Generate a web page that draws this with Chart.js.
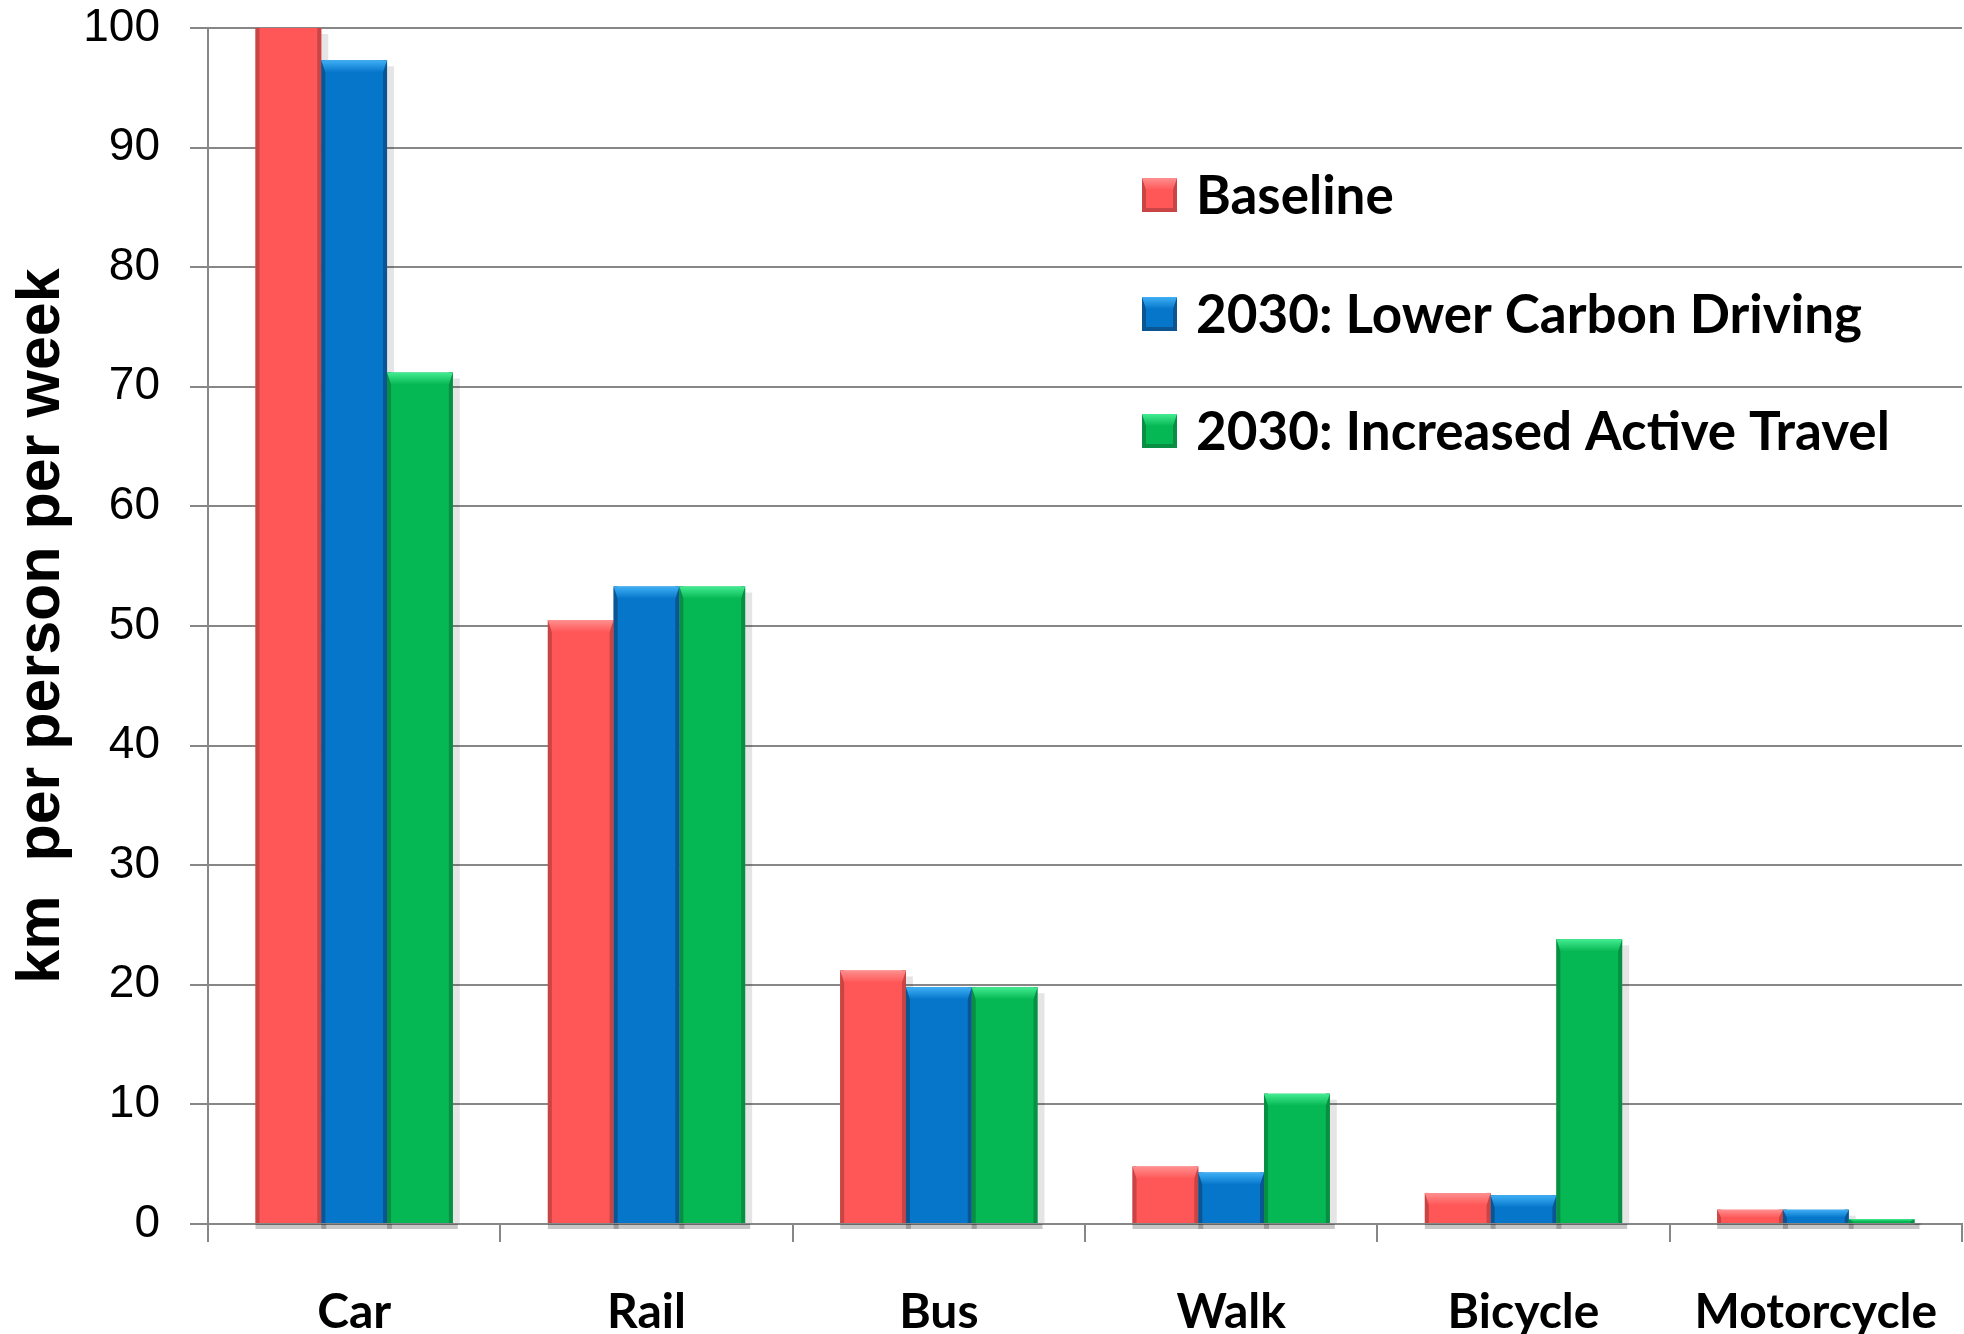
<!DOCTYPE html>
<html>
<head>
<meta charset="utf-8">
<script src="https://cdn.jsdelivr.net/npm/chart.js@4.4.1/dist/chart.umd.min.js"></script>
<style>
  html, body { margin: 0; padding: 0; background: #ffffff; }
  #wrap { width: 1964px; height: 1334px; }
</style>
</head>
<body>
<div id="wrap"><canvas id="c" width="1964" height="1334"></canvas></div>
<script>
// Weekly distance travelled by mode, km per person per week
const categories   = ['Car', 'Rail', 'Bus', 'Walk', 'Bicycle', 'Motorcycle'];
const baseline     = [100, 50.5, 21.2, 4.8, 2.6, 1.2];
const lowerCarbon  = [97.3, 53.3, 19.8, 4.3, 2.4, 1.2];
const activeTravel = [71.2, 53.3, 19.8, 10.9, 23.8, 0.4];
const seriesNames  = ['Baseline', '2030: Lower Carbon Driving', '2030: Increased Active Travel'];
const yTicks       = [0, 10, 20, 30, 40, 50, 60, 70, 80, 90, 100];
const yTitle       = 'km  per person per week';

const palette = [
  { fill: '#ff5757', dark: '#c94444', light: '#ff9090' },
  { fill: '#0676cb', dark: '#0a5592', light: '#3fb0f5' },
  { fill: '#06b854', dark: '#088f43', light: '#44ec92' }
];

const GRID = '#878787';
const LABEL_FONT = 'Lato, "Open Sans", sans-serif';
const NUM_FONT = '"Liberation Sans", Arial, sans-serif';

// Drop shadows behind each bar
const barShadows = {
  id: 'barShadows',
  beforeDatasetsDraw(chart) {
    const ctx = chart.ctx;
    ctx.save();
    chart.data.datasets.forEach((ds, i) => {
      const meta = chart.getDatasetMeta(i);
      meta.data.forEach(el => {
        const { x, y, base, width } = el.getProps(['x', 'y', 'base', 'width'], true);
        const left = x - width / 2, right = x + width / 2;
        ctx.fillStyle = 'rgba(0,0,0,0.10)';
        ctx.fillRect(right, y + 6, 7, base - y - 6);
        ctx.fillStyle = 'rgba(0,0,0,0.22)';
        ctx.fillRect(left, base + 1, width + 5, 5);
      });
    });
    ctx.restore();
  }
};

// Bevelled edges on a bar or legend swatch
function bevel(ctx, left, top, w, h, c) {
  const side = Math.min(4, w / 6);
  ctx.fillStyle = c.dark;
  ctx.fillRect(left, top, side, h);
  ctx.fillRect(left + w - side, top, side, h);
  const band = Math.min(12, h * 0.6);
  if (band > 1) {
    const g = ctx.createLinearGradient(0, top, 0, top + band);
    g.addColorStop(0, c.light);
    g.addColorStop(1, c.fill);
    ctx.fillStyle = g;
    ctx.beginPath();
    ctx.moveTo(left, top);
    ctx.lineTo(left + w, top);
    ctx.lineTo(left + w - side, top + band);
    ctx.lineTo(left + side, top + band);
    ctx.closePath();
    ctx.fill();
  }
}

const barBevels = {
  id: 'barBevels',
  afterDatasetsDraw(chart) {
    const ctx = chart.ctx;
    ctx.save();
    chart.data.datasets.forEach((ds, i) => {
      const meta = chart.getDatasetMeta(i);
      meta.data.forEach((el, j) => {
        const { x, y, base, width } = el.getProps(['x', 'y', 'base', 'width'], true);
        const top = Math.max(y, chart.chartArea.top);
        const h = base - top;
        const c = palette[i];
        // bars that reach the axis maximum keep a flat top
        if (ds.data[j] >= chart.scales.y.max) {
          ctx.fillStyle = c.dark;
          ctx.fillRect(x - width / 2, top, 4, h);
          ctx.fillRect(x + width / 2 - 4, top, 4, h);
        } else {
          bevel(ctx, x - width / 2, top, width, h, c);
        }
      });
    });
    ctx.restore();
  }
};

// Legend drawn inside the plot area
const insideLegend = {
  id: 'insideLegend',
  afterDraw(chart) {
    const ctx = chart.ctx;
    const a = chart.chartArea;
    const boxX = a.left + 934, textX = a.left + 988;
    const rowY = [a.top + 167, a.top + 286, a.top + 403];
    ctx.save();
    chart.data.datasets.forEach((ds, i) => {
      const cy = rowY[i];
      const c = palette[i];
      ctx.fillStyle = c.fill;
      ctx.fillRect(boxX, cy - 17, 35, 34);
      bevel(ctx, boxX, cy - 17, 35, 34, c);
      ctx.fillStyle = c.dark;
      ctx.fillRect(boxX, cy + 13, 35, 4);
      ctx.fillStyle = '#000000';
      ctx.font = 'bold 53px ' + LABEL_FONT;
      ctx.textBaseline = 'alphabetic';
      ctx.textAlign = 'left';
      ctx.fillText(ds.label, textX, cy + 19);
    });
    ctx.restore();
  }
};

const datasets = [baseline, lowerCarbon, activeTravel].map((vals, i) => ({
  label: seriesNames[i],
  data: vals,
  backgroundColor: palette[i].fill,
  borderWidth: 0,
  categoryPercentage: 0.675,
  barPercentage: 1.0
}));

new Chart(document.getElementById('c'), {
  type: 'bar',
  data: { labels: categories, datasets },
  options: {
    responsive: false,
    animation: false,
    devicePixelRatio: 1,
    layout: { padding: { left: 0, right: 2, top: 28, bottom: 0 } },
    plugins: {
      legend: { display: false },
      tooltip: { enabled: false }
    },
    scales: {
      x: {
        offset: true,
        grid: {
          display: true,
          drawOnChartArea: false,
          offset: true,
          color: GRID,
          lineWidth: 2,
          tickLength: 18
        },
        border: { color: GRID, width: 2 },
        ticks: {
          color: '#000000',
          padding: 42,
          font: { family: LABEL_FONT, size: 48, weight: 'bold' }
        },
        afterFit(scale) {
          scale.height = 110;
          scale.paddingLeft = 0;
          scale.paddingRight = 0;
        }
      },
      y: {
        min: 0,
        max: 100,
        afterBuildTicks(scale) { scale.ticks = yTicks.map(v => ({ value: v })); },
        grid: { color: GRID, lineWidth: 2, tickLength: 18 },
        border: { color: GRID, width: 2 },
        ticks: {
          color: '#000000',
          padding: 30,
          font: { family: NUM_FONT, size: 46 }
        },
        title: {
          display: true,
          text: yTitle,
          color: '#000000',
          padding: { top: 6, bottom: 0 },
          font: { family: NUM_FONT, size: 61, weight: 'bold' }
        },
        afterFit(scale) {
          scale.width = 208;
          scale.paddingTop = 0;
          scale.paddingBottom = 0;
        }
      }
    }
  },
  plugins: [barShadows, barBevels, insideLegend]
});
</script>
</body>
</html>
